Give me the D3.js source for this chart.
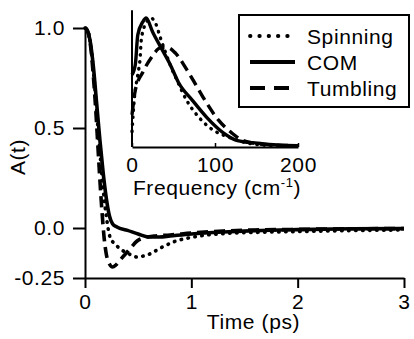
<!DOCTYPE html>
<html lang="en">
<head>
<meta charset="UTF-8">
<title>A(t)</title>
<script src="https://cdn.jsdelivr.net/npm/d3@7"></script>
<style>
  body { margin: 0; background: #fff; }
  text { font-family: "Liberation Sans", Arial, Helvetica, sans-serif; fill: #000; letter-spacing: 0.6px; }
</style>
</head>
<body>
<script>
// main panel: time correlation A(t)
const timeTicks = [0, 1, 2, 3]
const aTicks = [1.0, 0.5, 0.0, -0.25]
const aTickLabels = ["1.0", "0.5", "0.0", "-0.25"]

const tCom = [0, 0.02, 0.05, 0.08, 0.11, 0.14, 0.17, 0.2, 0.23, 0.26, 0.3, 0.4, 0.5, 0.6, 0.7, 0.8, 1.0, 1.3, 1.6, 2.0, 2.5, 3.0]
const aCom = [1.0, 0.99, 0.93, 0.8, 0.62, 0.44, 0.28, 0.15, 0.06, 0.02, 0.005, -0.012, -0.03, -0.045, -0.045, -0.04, -0.03, -0.02, -0.013, -0.008, -0.004, -0.003]

const tSpin = [0, 0.02, 0.05, 0.08, 0.11, 0.14, 0.17, 0.2, 0.235, 0.27, 0.31, 0.36, 0.4, 0.45, 0.49, 0.55, 0.6, 0.71, 0.83, 1.02, 1.33, 1.6, 2.0, 2.5, 3.0]
const aSpin = [1.0, 0.99, 0.93, 0.78, 0.58, 0.38, 0.2, 0.06, -0.045, -0.075, -0.095, -0.115, -0.125, -0.14, -0.145, -0.14, -0.132, -0.1, -0.07, -0.045, -0.027, -0.022, -0.018, -0.013, -0.01]

const tTumb = [0, 0.02, 0.05, 0.08, 0.1, 0.12, 0.14, 0.16, 0.18, 0.2, 0.23, 0.26, 0.29, 0.33, 0.38, 0.43, 0.49, 0.55, 0.65, 0.8, 1.0, 1.3, 1.6, 2.0, 2.5, 3.0]
const aTumb = [1.0, 0.99, 0.92, 0.75, 0.6, 0.42, 0.24, 0.08, -0.05, -0.13, -0.18, -0.195, -0.185, -0.16, -0.13, -0.1, -0.065, -0.05, -0.04, -0.035, -0.025, -0.015, -0.01, -0.007, -0.004, -0.003]

// inset: spectra (normalised)
const freqTicks = [0, 100, 200]

const fCom = [0, 4, 7, 13, 17, 25, 35, 46, 56, 73, 90, 110, 127, 151, 175, 200]
const sCom = [0.56, 0.64, 0.87, 0.97, 1.0, 0.89, 0.77, 0.64, 0.5, 0.36, 0.23, 0.11, 0.05, 0.03, 0.015, 0.01]

const fSpin = [0, 3, 7, 10, 11, 16, 23, 29, 34, 40, 47, 54, 66, 82, 98, 115, 140, 170, 200]
const sSpin = [0.12, 0.39, 0.56, 0.71, 0.82, 0.95, 1.0, 0.95, 0.85, 0.74, 0.62, 0.52, 0.36, 0.22, 0.13, 0.08, 0.03, 0.01, 0.005]

const fTumb = [0, 4, 13, 23, 35, 43, 52, 66, 78, 90, 104, 120, 134, 160, 200]
const sTumb = [0.25, 0.44, 0.58, 0.69, 0.77, 0.77, 0.73, 0.6, 0.47, 0.34, 0.21, 0.11, 0.05, 0.02, 0.01]

const legendNames = ["Spinning", "COM", "Tumbling"]

const width = 414, height = 339
const fs = 21
const svg = d3.select('body').append('svg')
  .attr('width', width)
  .attr('height', height)

const styles = {
  Spinning: { dash: "0.5,6.5", cap: "round" },
  COM: { dash: null, cap: "butt" },
  Tumbling: { dash: "11,6", cap: "butt" }
}

// ---- main panel
const x = d3.scaleLinear().domain([0, 3]).range([85, 404])
const y = d3.scaleLinear().domain([-0.25, 1]).range([278, 28])

const xAxis = svg.append('g')
  .attr("transform", `translate(0,${y(-0.25)})`)
  .call(d3.axisBottom(x).tickValues(timeTicks).tickFormat(d3.format("d")).tickSize(10).tickSizeOuter(0))
const yAxis = svg.append('g')
  .attr("transform", `translate(${x(0)},0)`)
  .call(d3.axisLeft(y).tickValues(aTicks).tickFormat((d, i) => aTickLabels[i]).tickSize(12).tickSizeOuter(0))

for (const g of [xAxis, yAxis]) {
  g.select('.domain').attr('stroke-width', 2)
  g.selectAll('.tick line').attr('stroke-width', 2)
  g.selectAll('.tick text').attr('font-size', fs).attr('font-family', null)
}
xAxis.selectAll('.tick text').attr('dy', '0.95em').attr('y', 11)
yAxis.selectAll('.tick text').attr('x', -20)

svg.append('text')
  .attr('transform', `translate(25,${(y(1) + y(-0.25)) / 2 + 4}) rotate(-90)`)
  .attr('text-anchor', 'middle')
  .attr('font-size', fs)
  .text('A(t)')
svg.append('text')
  .attr('x', (x(0) + x(3)) / 2 + 9)
  .attr('y', 329)
  .attr('text-anchor', 'middle')
  .attr('font-size', fs)
  .text('Time (ps)')

const mainLine = d3.line()
  .x(d => x(d[0]))
  .y(d => y(d[1]))
  .curve(d3.curveMonotoneX)

const mainSeries = [
  { name: "Spinning", t: tSpin, v: aSpin },
  { name: "Tumbling", t: tTumb, v: aTumb },
  { name: "COM", t: tCom, v: aCom }
]
for (const s of mainSeries) {
  svg.append('path')
    .datum(d3.zip(s.t, s.v))
    .attr('d', mainLine)
    .attr('fill', 'none')
    .attr('stroke', 'black')
    .attr('stroke-width', 3.6)
    .attr('stroke-linecap', styles[s.name].cap)
    .attr('stroke-dasharray', styles[s.name].dash)
}

// ---- inset
const xi = d3.scaleLinear().domain([0, 200]).range([132, 298])
const yi = d3.scaleLinear().domain([0, 1]).range([147, 18])

const xiAxis = svg.append('g')
  .attr("transform", `translate(0,${yi(0)})`)
  .call(d3.axisBottom(xi).tickValues(freqTicks).tickFormat(d3.format("d")).tickSize(-4).tickSizeOuter(0))
xiAxis.select('.domain').attr('stroke-width', 2)
xiAxis.selectAll('.tick line').attr('stroke-width', 1.5)
xiAxis.selectAll('.tick text').attr('font-size', fs).attr('font-family', null).attr('y', 8).attr('dy', '0.8em')

svg.append('line')
  .attr('x1', xi(0)).attr('x2', xi(0))
  .attr('y1', yi(0)).attr('y2', yi(1.06))
  .attr('stroke', 'black').attr('stroke-width', 2)

const freqLabel = svg.append('text')
  .attr('x', (xi(0) + xi(200)) / 2 + 2)
  .attr('y', 195)
  .attr('text-anchor', 'middle')
  .attr('font-size', fs)
freqLabel.append('tspan').text('Frequency (cm')
freqLabel.append('tspan').attr('font-size', 13).attr('dy', -8).text('-1')
freqLabel.append('tspan').attr('dy', 8).text(')')

const insetLine = d3.line()
  .x(d => xi(d[0]))
  .y(d => yi(d[1]))
  .curve(d3.curveMonotoneX)

const insetSeries = [
  { name: "Spinning", f: fSpin, v: sSpin },
  { name: "Tumbling", f: fTumb, v: sTumb },
  { name: "COM", f: fCom, v: sCom }
]
for (const s of insetSeries) {
  svg.append('path')
    .datum(d3.zip(s.f, s.v))
    .attr('d', insetLine)
    .attr('fill', 'none')
    .attr('stroke', 'black')
    .attr('stroke-width', 3.4)
    .attr('stroke-linecap', styles[s.name].cap)
    .attr('stroke-dasharray', styles[s.name].dash)
}

// ---- legend
const legend = svg.append('g')
legend.append('rect')
  .attr('x', 239).attr('y', 15)
  .attr('width', 170).attr('height', 92)
  .attr('fill', 'white')
  .attr('stroke', 'black')
  .attr('stroke-width', 2)

legendNames.forEach((name, i) => {
  const cy = 36 + i * 26
  legend.append('line')
    .attr('x1', 250).attr('x2', 295)
    .attr('y1', cy).attr('y2', cy)
    .attr('stroke', 'black')
    .attr('stroke-width', 3.8)
    .attr('stroke-linecap', styles[name].cap)
    .attr('stroke-dasharray', name === "Spinning" ? "0.5,8.8" : name === "Tumbling" ? "15,9" : null)
  legend.append('text')
    .attr('x', 307).attr('y', cy + 8)
    .attr('font-size', fs)
    .text(name)
})
</script>
</body>
</html>
